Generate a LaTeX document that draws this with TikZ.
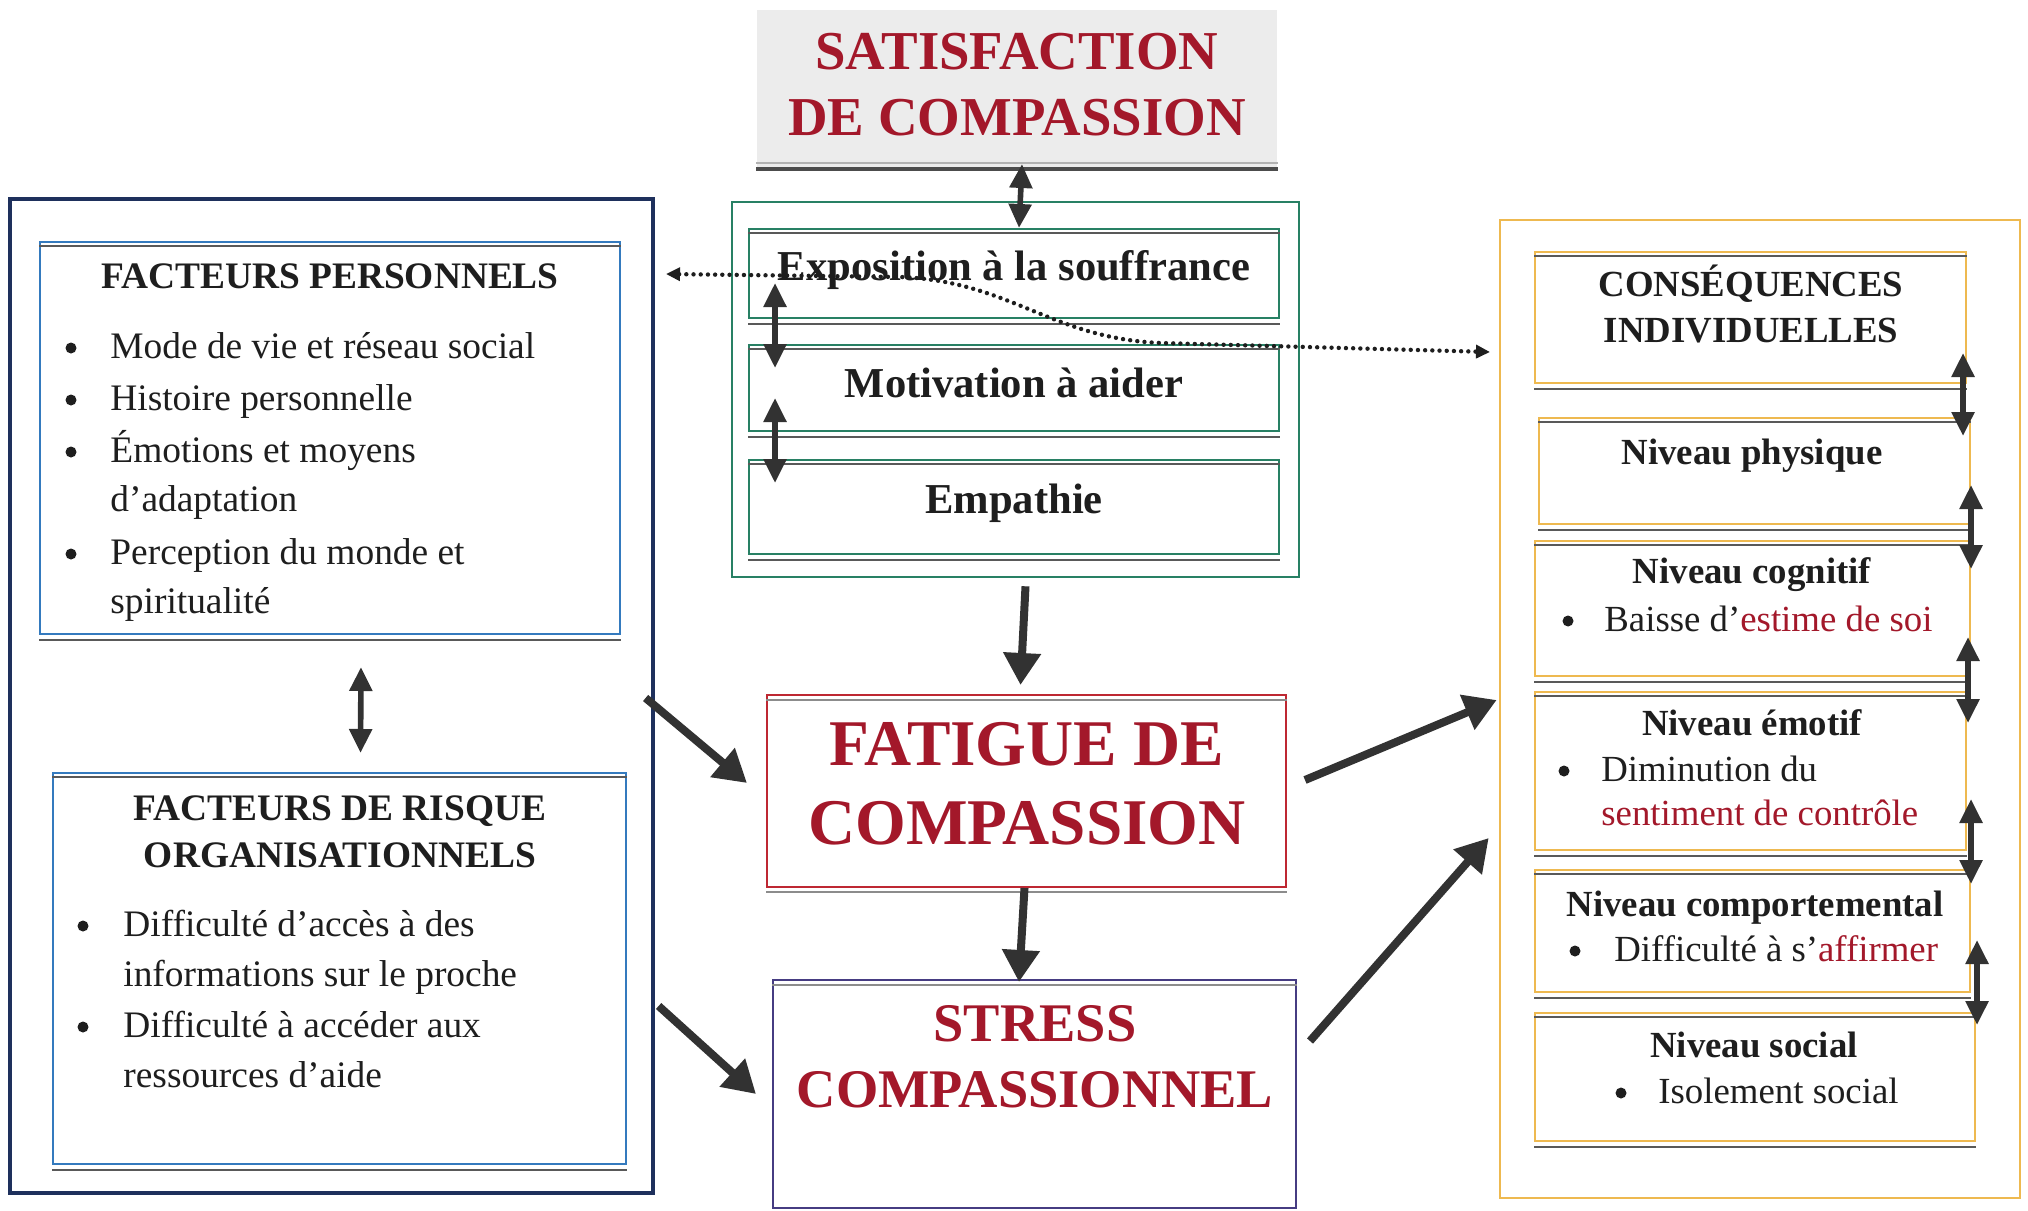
\documentclass[tikz,border=0pt]{standalone}
\usepackage{fontspec}
\setmainfont{Liberation Serif}
\usetikzlibrary{arrows.meta,fit,calc}
\definecolor{dred}{RGB}{163,24,42}
\definecolor{navy}{RGB}{30,48,92}
\definecolor{fpblue}{RGB}{52,122,190}
\definecolor{teal}{RGB}{40,128,100}
\definecolor{fatred}{RGB}{190,40,50}
\definecolor{stresspur}{RGB}{70,60,130}
\definecolor{gold}{RGB}{238,185,80}
\definecolor{arrgray}{RGB}{50,50,50}
\definecolor{inkk}{RGB}{30,30,30}
\definecolor{satgray}{RGB}{236,236,236}
\newcommand\dblines[1]{%
  \draw[dline] ([yshift=-2.5pt]#1.north west) -- ([yshift=-2.5pt]#1.north east);
  \draw[dline] ([yshift=-2.5pt]#1.south west) -- ([yshift=-2.5pt]#1.south east);}
\begin{document}
\begin{tikzpicture}[x=0.5pt,y=-0.5pt,
  box/.style={inner sep=0pt, line width=1pt},
  dline/.style={draw=black!65, line width=0.9pt},
  body/.style={inner sep=0pt, anchor=west, text=inkk, font=\fontsize{18.7}{22}\selectfont, text height=0.9em, text depth=0.17em, yshift=-2pt},
  rbody/.style={body, font=\fontsize{18.4}{22}\selectfont},
  bul/.style={circle, fill=inkk, draw=none, inner sep=0pt, minimum size=5.5pt},
  ttl/.style={inner sep=0pt, text=inkk, font=\fontsize{18.7}{22}\selectfont\bfseries, text height=0.9em, text depth=0.17em, yshift=-2pt},
  rttl/.style={ttl, font=\fontsize{18.4}{22}\selectfont\bfseries},
  cttl/.style={ttl, font=\fontsize{21.3}{24}\selectfont\bfseries, yshift=-0.5pt},
  redttl/.style={inner sep=0pt, text=dred, font=\fontsize{#1}{#1}\selectfont\bfseries},
  bigarr/.style={draw=arrgray, line width=4pt, -{Triangle[length=16pt,width=18pt]}},
  dbarr/.style={draw=arrgray, line width=2.8pt, {Triangle[length=12pt,width=11pt]}-{Triangle[length=12pt,width=11pt]}},
  dotarr/.style={draw=inkk, line width=2.2pt, line cap=round, dash pattern=on 0pt off 3.6pt, {Triangle[length=7pt,width=6.5pt]}-{Triangle[length=7pt,width=6.5pt]}}
]
\useasboundingbox (0,0) rectangle (2028,1210);
\fill[white] (0,0) rectangle (2028,1210);

% ---------- centre column ----------
\node[box, fit={(757,10) (1277,168)}, fill=satgray, draw=none] (sat) {};
\draw[draw=black!70, line width=2pt] (sat.south west) -- (sat.south east);
\draw[draw=black!30, line width=0.8pt] ([yshift=3pt]sat.south west) -- ([yshift=3pt]sat.south east);
\node[redttl=27.4] (sat1) at (1017,52) {SATISFACTION};
\node[redttl=27.4] (sat2) at (1017,118) {DE COMPASSION};

\node[box, fit={(732,202) (1299,577)}, draw=teal, line width=1.3pt] (green) {};
\node[box, fit={(749,229) (1279,318)}, draw=teal] (expo) {};
\node[box, fit={(749,345) (1279,431)}, draw=teal] (motiv) {};
\node[box, fit={(749,460) (1279,554)}, draw=teal] (emp) {};
\dblines{expo}\dblines{motiv}\dblines{emp}
\node[cttl] (expot) at (1014,268) {Exposition à la souffrance};
\node[cttl] (motivt) at (1014,385) {Motivation à aider};
\node[cttl] (empt) at (1014,501) {Empathie};

\node[box, fit={(767,695) (1286,887)}, draw=fatred] (fatigue) {};
\draw[draw=black!45, line width=0.8pt] ([yshift=-3pt]fatigue.north west) -- ([yshift=-3pt]fatigue.north east);
\draw[draw=black!45, line width=0.8pt] ([yshift=-2pt]fatigue.south west) -- ([yshift=-2pt]fatigue.south east);
\node[redttl=32.6] (fat1) at (1027,744) {FATIGUE DE};
\node[redttl=32.6] (fat2) at (1027,823) {COMPASSION};

\node[box, fit={(773,980) (1296,1208)}, draw=stresspur] (stress) {};
\draw[draw=black!45, line width=0.8pt] ([yshift=-3pt]stress.north west) -- ([yshift=-3pt]stress.north east);
\node[redttl=27.2] (str1) at (1035,1024) {STRESS};
\node[redttl=27.2] (str2) at (1035,1090) {COMPASSIONNEL};

% ---------- left column ----------
\node[box, fit={(10,199) (653,1193)}, draw=navy, line width=1.6pt] (left) {};
\node[box, fit={(40,242) (620,634)}, draw=fpblue] (fp) {};
\dblines{fp}
\node[ttl] (fpt) at (330,277) {FACTEURS PERSONNELS};
\node[bul] (fpb1) at (71,348) {};
\node[body] (fp1) at (110,347) {Mode de vie et réseau social};
\node[bul] (fpb2) at (71,400) {};
\node[body] (fp2) at (110,399) {Histoire personnelle};
\node[bul] (fpb3) at (71,452) {};
\node[body] (fp3) at (110,451) {Émotions et moyens};
\node[body] (fp3b) at (110,500) {d’adaptation};
\node[bul] (fpb4) at (71,554) {};
\node[body] (fp4) at (110,553) {Perception du monde et};
\node[body] (fp4b) at (110,602) {spiritualité};

\node[box, fit={(53,773) (626,1164)}, draw=fpblue] (fro) {};
\dblines{fro}
\node[ttl] (frot1) at (340,809) {FACTEURS DE RISQUE};
\node[ttl] (frot2) at (340,856) {ORGANISATIONNELS};
\node[bul] (frob1) at (83,926) {};
\node[body] (fro1) at (123,925) {Difficulté d’accès à des};
\node[body] (fro1b) at (123,975) {informations sur le proche};
\node[bul] (frob2) at (83,1027) {};
\node[body] (fro2) at (123,1026) {Difficulté à accéder aux};
\node[body] (fro2b) at (123,1076) {ressources d’aide};

% ---------- right column ----------
\node[box, fit={(1500,220) (2020,1198)}, draw=gold, line width=1.3pt] (right) {};
\node[box, fit={(1535,252) (1966,383)}, draw=gold] (ci) {};
\node[box, fit={(1539,418) (1970,524)}, draw=gold] (np) {};
\node[box, fit={(1535,541) (1970,676)}, draw=gold] (nc) {};
\node[box, fit={(1535,692) (1966,850)}, draw=gold] (ne) {};
\node[box, fit={(1535,870) (1970,992)}, draw=gold] (nco) {};
\node[box, fit={(1535,1013) (1975,1141)}, draw=gold] (ns) {};
\dblines{ci}\dblines{np}\dblines{nc}\dblines{ne}\dblines{nco}\dblines{ns}
\node[rttl] (cit1) at (1751,285) {CONSÉQUENCES};
\node[rttl] (cit2) at (1751,331) {INDIVIDUELLES};
\node[rttl] (npt) at (1752,453) {Niveau physique};
\node[rttl] (nct) at (1752,572) {Niveau cognitif};
\node[bul] (ncb) at (1568,621) {};
\node[rbody] (nc1) at (1604,620) {Baisse d’\textcolor{dred}{estime de soi}};
\node[rttl] (net) at (1752,724) {Niveau émotif};
\node[bul] (neb) at (1564,771) {};
\node[rbody] (ne1) at (1601,770) {Diminution du};
\node[rbody] (ne2) at (1601,814) {\textcolor{dred}{sentiment de contrôle}};
\node[rttl] (ncot) at (1755,905) {Niveau comportemental};
\node[bul] (ncob) at (1575,951) {};
\node[rbody] (nco1) at (1614,950) {Difficulté à s’\textcolor{dred}{affirmer}};
\node[rttl] (nst) at (1754,1046) {Niveau social};
\node[bul] (nsb) at (1621,1093) {};
\node[rbody] (ns1) at (1658,1092) {Isolement social};

% ---------- connectors ----------
\draw[dbarr] ([xshift=2.5pt,yshift=2.5pt]sat.south) -- ([xshift=2.5pt]expo.north);
\draw[dbarr] ([xshift=13.5pt,yshift=18pt]expo.south west) -- ([xshift=13.5pt,yshift=-12pt]motiv.north west);
\draw[dbarr] ([xshift=13.5pt,yshift=17pt]motiv.south west) -- ([xshift=13.5pt,yshift=-12pt]emp.north west);
\draw[dbarr] ([xshift=15.5pt,yshift=-16pt]fp.south) -- ([xshift=10.5pt,yshift=9.5pt]fro.north);

\draw[bigarr] ([xshift=5pt,yshift=-4pt]green.south) -- ([xshift=-3pt,yshift=4.5pt]fatigue.north);
\draw[bigarr] ([xshift=-1pt]fatigue.south) -- ([xshift=-7.75pt,yshift=-1.5pt]stress.north);
\draw[bigarr] ([xshift=-4.5pt,yshift=-1pt]left.east) -- ([xshift=-9.5pt,yshift=4pt]fatigue.west);
\draw[bigarr] ([xshift=2pt,yshift=-155pt]left.east) -- ([xshift=-8pt]stress.west);
\draw[bigarr] ([xshift=9pt,yshift=5.5pt]fatigue.east) -- ([xshift=-1pt,yshift=4.5pt]right.west);
\draw[bigarr] ([xshift=6.5pt,yshift=26.5pt]stress.east) -- ([xshift=-5pt,yshift=-64.5pt]right.west);

\draw[dbarr] ([xshift=-2pt,yshift=15.5pt]ci.south east) -- ([xshift=-4pt,yshift=-9.5pt]np.north east);
\draw[dbarr] ([yshift=20pt]np.south east) -- ([yshift=-14.5pt]nc.north east);
\draw[dbarr] ([xshift=-1.5pt,yshift=20pt]nc.south east) -- ([xshift=0.5pt,yshift=-16pt]ne.north east);
\draw[dbarr] ([xshift=2pt,yshift=26pt]ne.south east) -- ([yshift=-7.5pt]nco.north east);
\draw[dbarr] ([xshift=3pt,yshift=26.5pt]nco.south east) -- ([xshift=0.5pt,yshift=-6.5pt]ns.north east);

\coordinate (dotL) at (666,274);
\coordinate (dotR) at (1490,352);
\draw[dotarr] (dotL) -- (900,277) .. controls (1010,281) and (1050,338) .. (1160,343) -- (dotR);
\end{tikzpicture}
\end{document}
